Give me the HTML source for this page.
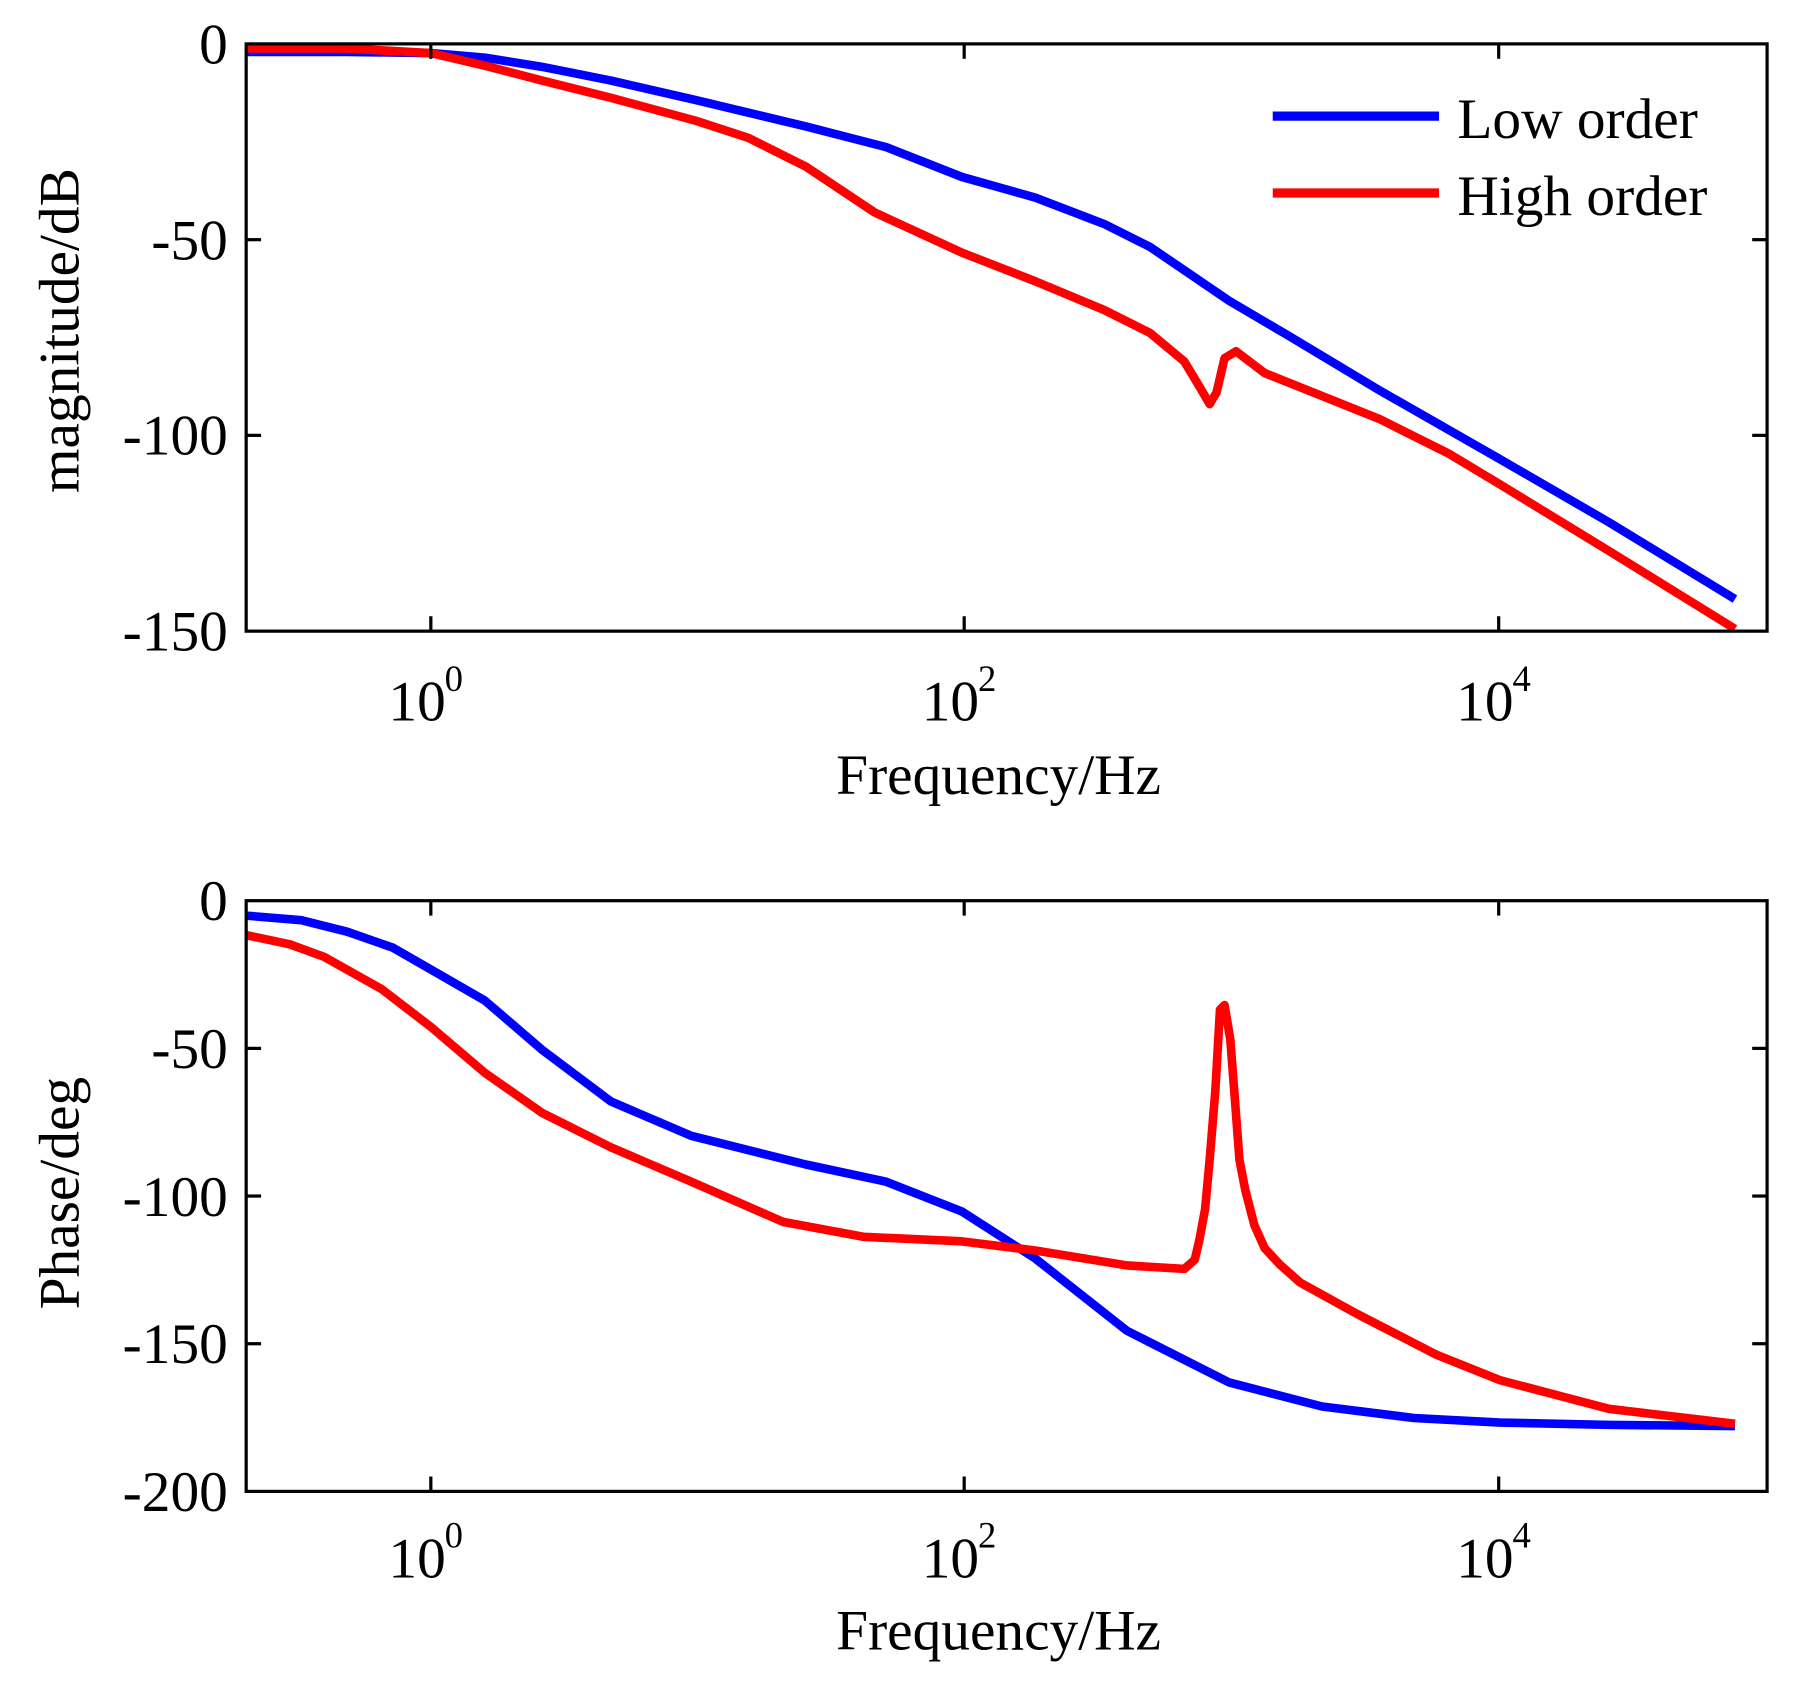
<!DOCTYPE html>
<html><head><meta charset="utf-8"><style>
html,body{margin:0;padding:0;background:#fff;}
svg{display:block;}
text{font-family:"Liberation Serif","DejaVu Serif",serif;fill:#000;}
</style></head><body>
<svg width="1800" height="1684" viewBox="0 0 1800 1684" xmlns="http://www.w3.org/2000/svg">
<g transform="translate(3,0.3) scale(1.147)">
<!-- TOP PLOT -->
<g fill="none" stroke-linejoin="round" stroke-linecap="butt">
<polyline stroke="#0000ff" stroke-width="7.5" points="212,45 300,45 373,46 420,50 470,58 530,70 604,87 700,110 770,128 836,154 900,172 960,195 1000,215 1069,262 1120,292 1200,340 1305,400 1400,455 1510,522"/>
<polyline stroke="#ff0000" stroke-width="7.5" points="212,42 300,42 373,46 420,57 470,70 530,85 604,105 650,120 700,145 760,185 836,220 900,245 960,270 1000,290 1030,315 1045,340 1052,352 1058,342 1065,312 1075,306 1100,325 1150,345 1200,365 1260,395 1305,422 1400,480 1510,548"/>
</g>
<rect x="212" y="38" width="1326" height="512" fill="none" stroke="#000" stroke-width="2.8"/>
<g stroke="#000" stroke-width="2.8">
<line x1="373" y1="550" x2="373" y2="537"/><line x1="838" y1="550" x2="838" y2="537"/><line x1="1304" y1="550" x2="1304" y2="537"/>
<line x1="373" y1="38" x2="373" y2="51"/><line x1="838" y1="38" x2="838" y2="51"/><line x1="1304" y1="38" x2="1304" y2="51"/>
<line x1="212" y1="208.7" x2="225" y2="208.7"/><line x1="212" y1="379.3" x2="225" y2="379.3"/>
<line x1="1538" y1="208.7" x2="1525" y2="208.7"/><line x1="1538" y1="379.3" x2="1525" y2="379.3"/>
</g>
<g font-size="50" text-anchor="end">
<text x="196" y="55">0</text>
<text x="196" y="226">-50</text>
<text x="196" y="396">-100</text>
<text x="196" y="567">-150</text>
</g>
<g font-size="50">
<text x="336" y="628">10</text><text x="385" y="602" font-size="32">0</text>
<text x="801" y="628">10</text><text x="850" y="602" font-size="32">2</text>
<text x="1267" y="628">10</text><text x="1316" y="602" font-size="32">4</text>
<text x="868" y="692" text-anchor="middle">Frequency/Hz</text>
<text transform="translate(66,288) rotate(-90)" text-anchor="middle">magnitude/dB</text>
</g>
<line x1="1107" y1="101" x2="1252" y2="101" stroke="#0000ff" stroke-width="8"/>
<line x1="1107" y1="168" x2="1252" y2="168" stroke="#ff0000" stroke-width="8"/>
<text x="1268" y="120" font-size="50">Low order</text>
<text x="1268" y="187" font-size="50">High order</text>

<!-- BOTTOM PLOT -->
<g fill="none" stroke-linejoin="round" stroke-linecap="butt">
<polyline stroke="#0000ff" stroke-width="7.5" points="212,798 260,802 300,812 340,826 373,845 420,872 470,915 530,960 600,990 700,1015 770,1030 836,1056 900,1097 980,1160 1069,1205 1150,1226 1230,1236 1305,1240 1400,1242 1510,1243"/>
<polyline stroke="#ff0000" stroke-width="7.5" points="212,815 250,823 280,834 330,862 373,895 420,935 470,970 530,1000 600,1030 680,1065 750,1078 836,1082 900,1090 980,1103 1030,1106 1039,1098 1043,1081 1048,1054 1052,1011 1057,950 1061,880 1065,876 1070,906 1074,958 1078,1011 1083,1037 1091,1068 1100,1088 1113,1102 1131,1118 1180,1145 1250,1181 1305,1203 1400,1228 1510,1241"/>
</g>
<rect x="212" y="785" width="1326" height="515" fill="none" stroke="#000" stroke-width="2.8"/>
<g stroke="#000" stroke-width="2.8">
<line x1="373" y1="1300" x2="373" y2="1287"/><line x1="838" y1="1300" x2="838" y2="1287"/><line x1="1304" y1="1300" x2="1304" y2="1287"/>
<line x1="373" y1="785" x2="373" y2="798"/><line x1="838" y1="785" x2="838" y2="798"/><line x1="1304" y1="785" x2="1304" y2="798"/>
<line x1="212" y1="913.75" x2="225" y2="913.75"/><line x1="212" y1="1042.5" x2="225" y2="1042.5"/><line x1="212" y1="1171.25" x2="225" y2="1171.25"/>
<line x1="1538" y1="913.75" x2="1525" y2="913.75"/><line x1="1538" y1="1042.5" x2="1525" y2="1042.5"/><line x1="1538" y1="1171.25" x2="1525" y2="1171.25"/>
</g>
<g font-size="50" text-anchor="end">
<text x="196" y="802">0</text>
<text x="196" y="931">-50</text>
<text x="196" y="1060">-100</text>
<text x="196" y="1188">-150</text>
<text x="196" y="1317">-200</text>
</g>
<g font-size="50">
<text x="336" y="1375">10</text><text x="385" y="1349" font-size="32">0</text>
<text x="801" y="1375">10</text><text x="850" y="1349" font-size="32">2</text>
<text x="1267" y="1375">10</text><text x="1316" y="1349" font-size="32">4</text>
<text x="868" y="1438" text-anchor="middle">Frequency/Hz</text>
<text transform="translate(66,1040) rotate(-90)" text-anchor="middle">Phase/deg</text>
</g>
</g>
</svg>
</body></html>
